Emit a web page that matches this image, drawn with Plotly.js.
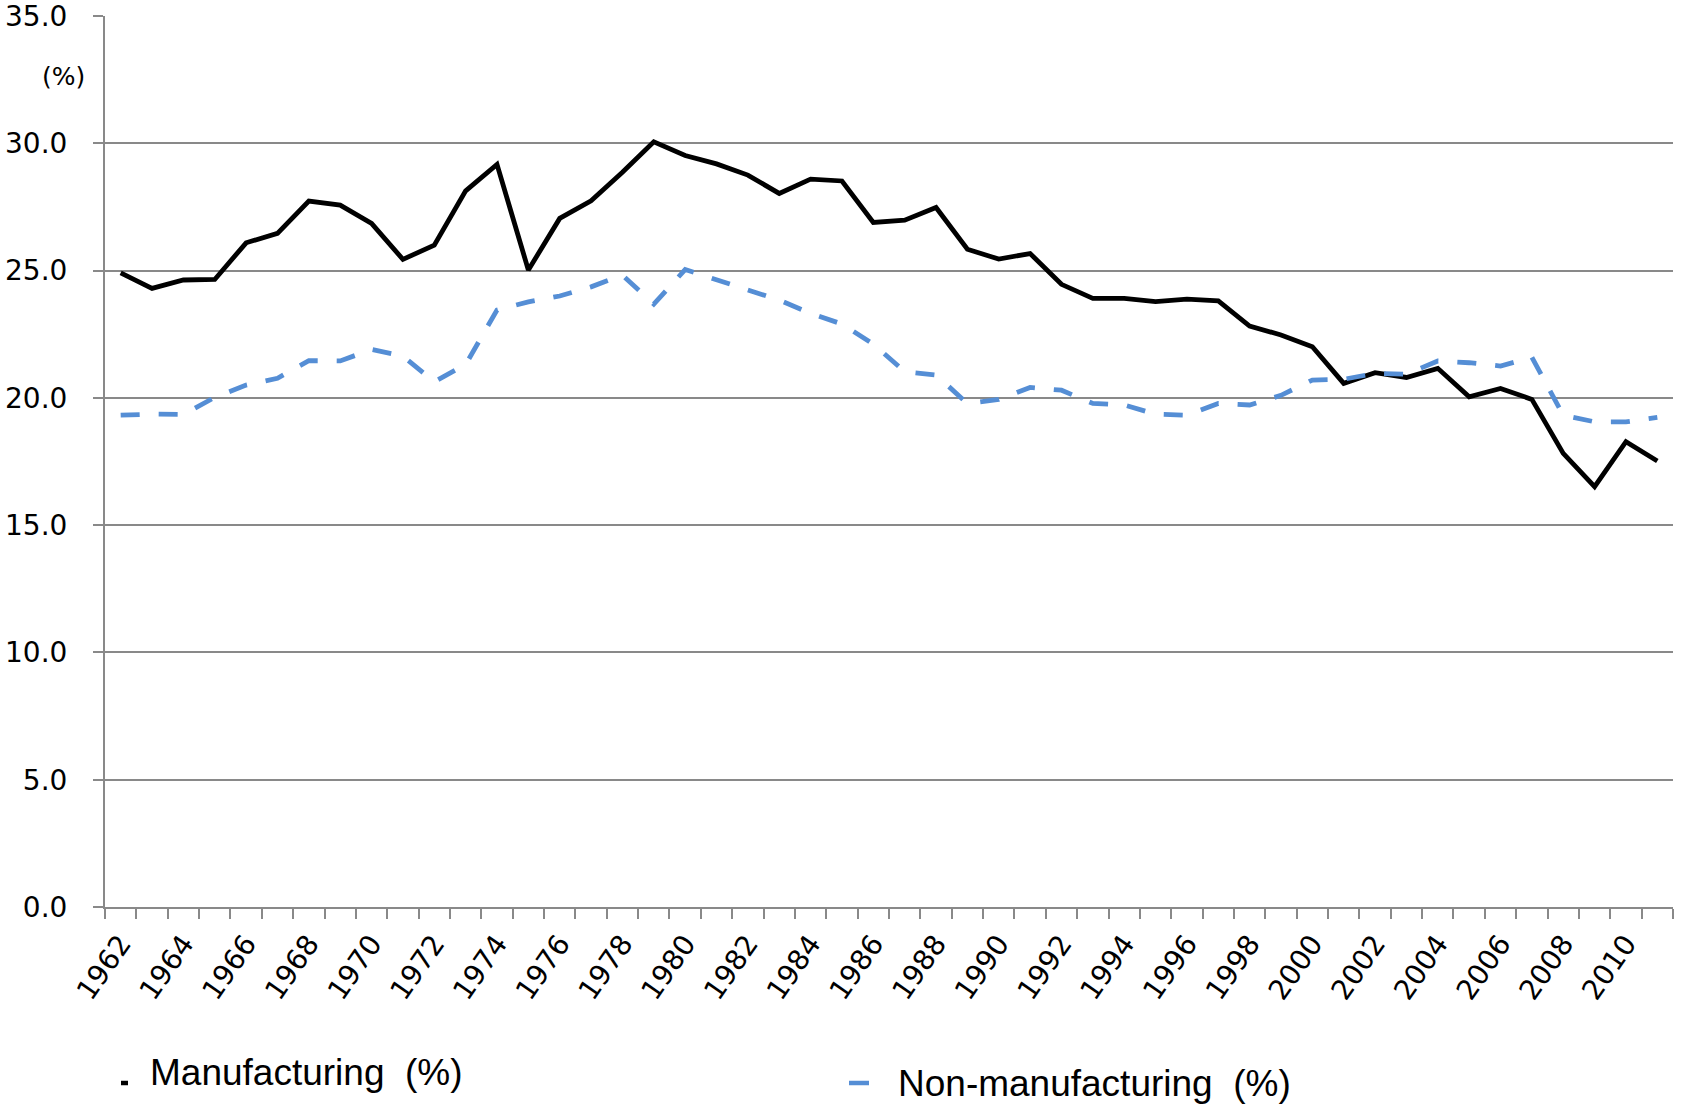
<!DOCTYPE html>
<html>
<head>
<meta charset="utf-8">
<script src="https://cdn.plot.ly/plotly-3.0.1.min.js"></script>
<style>
  html, body { margin: 0; padding: 0; background: #ffffff; }
  #chart { width: 1684px; height: 1105px; }
</style>
</head>
<body>
<div id="chart"></div>
<script>
// ---- data ----
var years = [1962,1963,1964,1965,1966,1967,1968,1969,1970,1971,
             1972,1973,1974,1975,1976,1977,1978,1979,1980,1981,
             1982,1983,1984,1985,1986,1987,1988,1989,1990,1991,
             1992,1993,1994,1995,1996,1997,1998,1999,2000,2001,
             2002,2003,2004,2005,2006,2007,2008,2009,2010,2011];

var manufacturing = [24.91,24.30,24.63,24.65,26.09,26.46,27.73,27.57,26.85,25.44,
                     26.00,28.13,29.17,25.02,27.05,27.74,28.86,30.06,29.52,29.19,
                     28.75,28.03,28.59,28.52,26.89,26.98,27.48,25.84,25.45,25.67,
                     24.46,23.91,23.91,23.78,23.88,23.81,22.82,22.47,22.01,20.57,
                     20.99,20.80,21.16,20.04,20.37,19.94,17.82,16.51,18.28,17.52];

var nonManufacturing = [19.32,19.36,19.35,20.02,20.50,20.77,21.46,21.45,21.90,21.64,
                        20.63,21.31,23.45,23.77,24.00,24.36,24.82,23.68,25.04,24.63,
                        24.23,23.84,23.32,22.90,22.11,21.03,20.90,19.78,19.94,20.41,
                        20.30,19.78,19.72,19.36,19.32,19.78,19.72,20.10,20.70,20.73,
                        20.96,20.93,21.45,21.38,21.25,21.59,19.32,19.06,19.06,19.23];

var tickYears = [1962,1964,1966,1968,1970,1972,1974,1976,1978,1980,1982,1984,1986,
                 1988,1990,1992,1994,1996,1998,2000,2002,2004,2006,2008,2010];
var tickLabels = tickYears.map(String);

var seriesNames = ['Manufacturing\u00a0\u00a0(%)', 'Non-manufacturing\u00a0\u00a0(%)'];
var unitLabel = '(%)';

// ---- layout helpers ----
var W = 1684, H = 1105;
var M = {l: 105, r: 11, t: 16, b: 198};
var PW = W - M.l - M.r, PH = H - M.t - M.b;
function px(x) { return (x - M.l) / PW; }
function py(y) { return (H - M.b - y) / PH; }

var boundaries = years.map(function (y) { return y - 0.5; });
boundaries.push(years[years.length - 1] + 0.5);

var gridColor = '#898989';
var tickFont = {family: '"DejaVu Sans", Verdana, sans-serif', size: 28, color: '#000000'};
var legendFont = {family: '"Liberation Sans", Arial, sans-serif', size: 37, color: '#000000'};

var traces = [
  {
    x: years, y: manufacturing, type: 'scatter', mode: 'lines',
    name: seriesNames[0],
    line: {color: '#000000', width: 4.8},
    showlegend: false
  },
  {
    x: years, y: nonManufacturing, type: 'scatter', mode: 'lines',
    name: seriesNames[1],
    line: {color: '#558ED5', width: 4.8, dash: '19px,19px'},
    showlegend: false
  }
];

var layout = {
  width: W, height: H,
  margin: M,
  paper_bgcolor: '#ffffff',
  plot_bgcolor: '#ffffff',
  showlegend: false,
  xaxis: {
    type: 'linear',
    range: [boundaries[0], boundaries[boundaries.length - 1]],
    tickmode: 'array',
    tickvals: tickYears,
    ticktext: tickLabels,
    tickangle: -55,
    ticks: '',
    tickfont: tickFont,
    ticklabeloverflow: 'allow',
    showgrid: false,
    zeroline: false,
    showline: true,
    linecolor: gridColor,
    linewidth: 2,
    ticklabelstandoff: 7,
    minor: {
      tickmode: 'array',
      tickvals: boundaries,
      ticks: 'outside',
      ticklen: 10,
      tickwidth: 2,
      tickcolor: gridColor,
      showgrid: false
    },
    fixedrange: true
  },
  yaxis: {
    range: [0, 35],
    dtick: 5,
    tick0: 0,
    tickformat: '.1f',
    ticks: 'outside',
    ticklen: 10,
    tickwidth: 2,
    tickcolor: gridColor,
    tickfont: tickFont,
    ticklabeloverflow: 'allow',
    ticklabelstandoff: 20,
    showgrid: true,
    gridcolor: gridColor,
    gridwidth: 2,
    zeroline: false,
    showline: true,
    linecolor: gridColor,
    linewidth: 2,
    fixedrange: true
  },
  annotations: [
    {
      xref: 'paper', yref: 'paper', x: px(63), y: py(76),
      xanchor: 'center', yanchor: 'middle', showarrow: false,
      text: unitLabel,
      font: {family: '"DejaVu Sans", Verdana, sans-serif', size: 25, color: '#000000'}
    },
    {
      xref: 'paper', yref: 'paper', x: px(148), y: py(1072),
      xanchor: 'left', yanchor: 'middle', showarrow: false,
      text: seriesNames[0], font: legendFont
    },
    {
      xref: 'paper', yref: 'paper', x: px(896), y: py(1083),
      xanchor: 'left', yanchor: 'middle', showarrow: false,
      text: seriesNames[1], font: legendFont
    }
  ],
  shapes: [
    {
      type: 'line', xref: 'paper', yref: 'paper',
      x0: px(121), x1: px(128), y0: py(1083), y1: py(1083),
      line: {color: '#000000', width: 4.5}
    },
    {
      type: 'line', xref: 'paper', yref: 'paper',
      x0: px(849), x1: px(869), y0: py(1083), y1: py(1083),
      line: {color: '#558ED5', width: 4.5}
    }
  ]
};

Plotly.newPlot('chart', traces, layout, {displayModeBar: false, staticPlot: true});
</script>
</body>
</html>
